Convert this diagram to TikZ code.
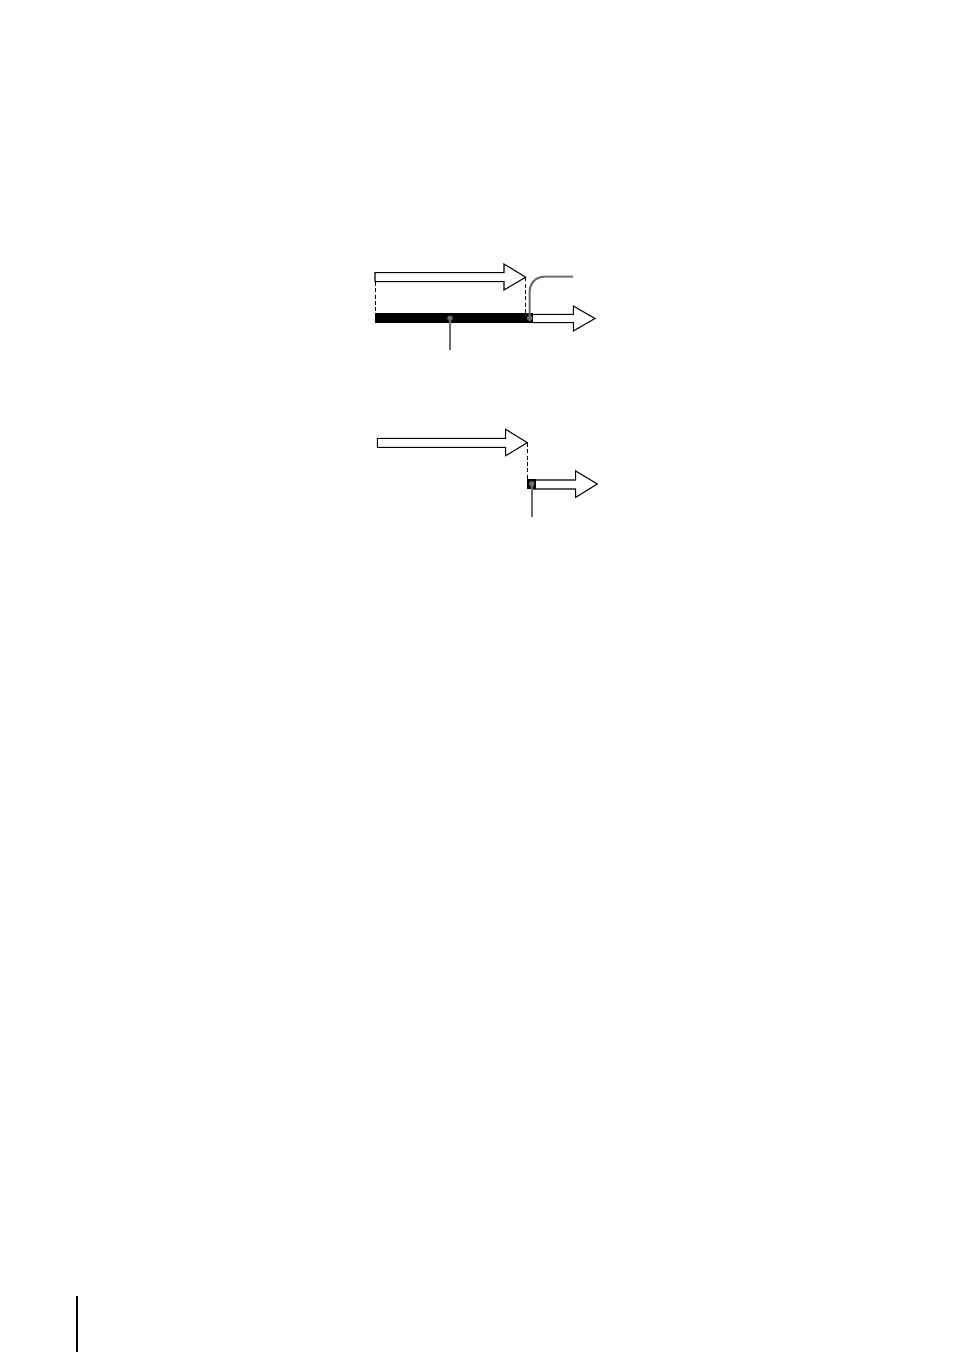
\documentclass[tikz,border=0pt]{standalone}
\begin{document}
\begin{tikzpicture}[x=0.624pt,y=-0.624pt,
  bigarrow/.style={draw=black,fill=white,line width=0.65pt,line join=miter},
  guide/.style={draw=black,dashed,line width=0.6pt,dash pattern=on 2.5pt off 1.5pt},
  leader/.style={draw=black!58,line width=1.3pt},
  dot/.style={fill=black!58}]
\useasboundingbox (0,0) rectangle (954,1352);
% ---------- upper diagram ----------
% arrow 1
\path[bigarrow] (375,272.7) -- (504,272.7) -- (504,264) -- (525.7,277.2) -- (504,290) -- (504,281.7) -- (375,281.7) -- cycle;
% dashed guides
\coordinate (g1a) at (375,281.7);
\coordinate (g1b) at (375,313.3);
\coordinate (g2a) at (525.7,277.2);
\coordinate (g2b) at (525.7,313.3);
\draw[guide] (g1a) -- (g1b);
\draw[guide] (g2a) -- (g2b);
% arrow 2
\path[bigarrow] (530,314.3) -- (573.3,314.3) -- (573.3,306) -- (595,318.5) -- (573.3,331) -- (573.3,322.7) -- (530,322.7) -- cycle;
% black bar
\fill[black] (375,313.3) rectangle (533,323.3);
% leaders
\coordinate (d1) at (450,318.3);
\coordinate (d1e) at (450,350);
\coordinate (d2) at (529.7,318.3);
\coordinate (d2e) at (573,276.7);
\draw[leader] (d1) -- (d1e);
\draw[leader,rounded corners=9pt] (d2) -- (529.7,276.7) -- (d2e);
\fill[dot] (d1) circle (2.8);
\fill[dot] (d2) circle (2.8);
% ---------- lower diagram ----------
\path[bigarrow] (377.3,438.3) -- (505.7,438.3) -- (505.7,429.3) -- (527.3,442.7) -- (505.7,455.7) -- (505.7,447.3) -- (377.3,447.3) -- cycle;
\coordinate (g3a) at (527.3,442.7);
\coordinate (g3b) at (527.3,479.3);
\draw[guide] (g3a) -- (g3b);
\path[bigarrow] (533,480) -- (575.7,480) -- (575.7,471) -- (597.3,484) -- (575.7,497.3) -- (575.7,489) -- (533,489) -- cycle;
\fill[black] (527.3,479.3) rectangle (535.7,489);
\coordinate (d3) at (531.7,483.8);
\coordinate (d3e) at (531.7,516.7);
\draw[leader] (d3) -- (d3e);
\fill[dot] (d3) circle (2.8);
% ---------- margin rule ----------
\coordinate (m1) at (77,1296);
\coordinate (m2) at (77,1352);
\draw[black,line width=1pt] (m1) -- (m2);
\end{tikzpicture}
\end{document}
